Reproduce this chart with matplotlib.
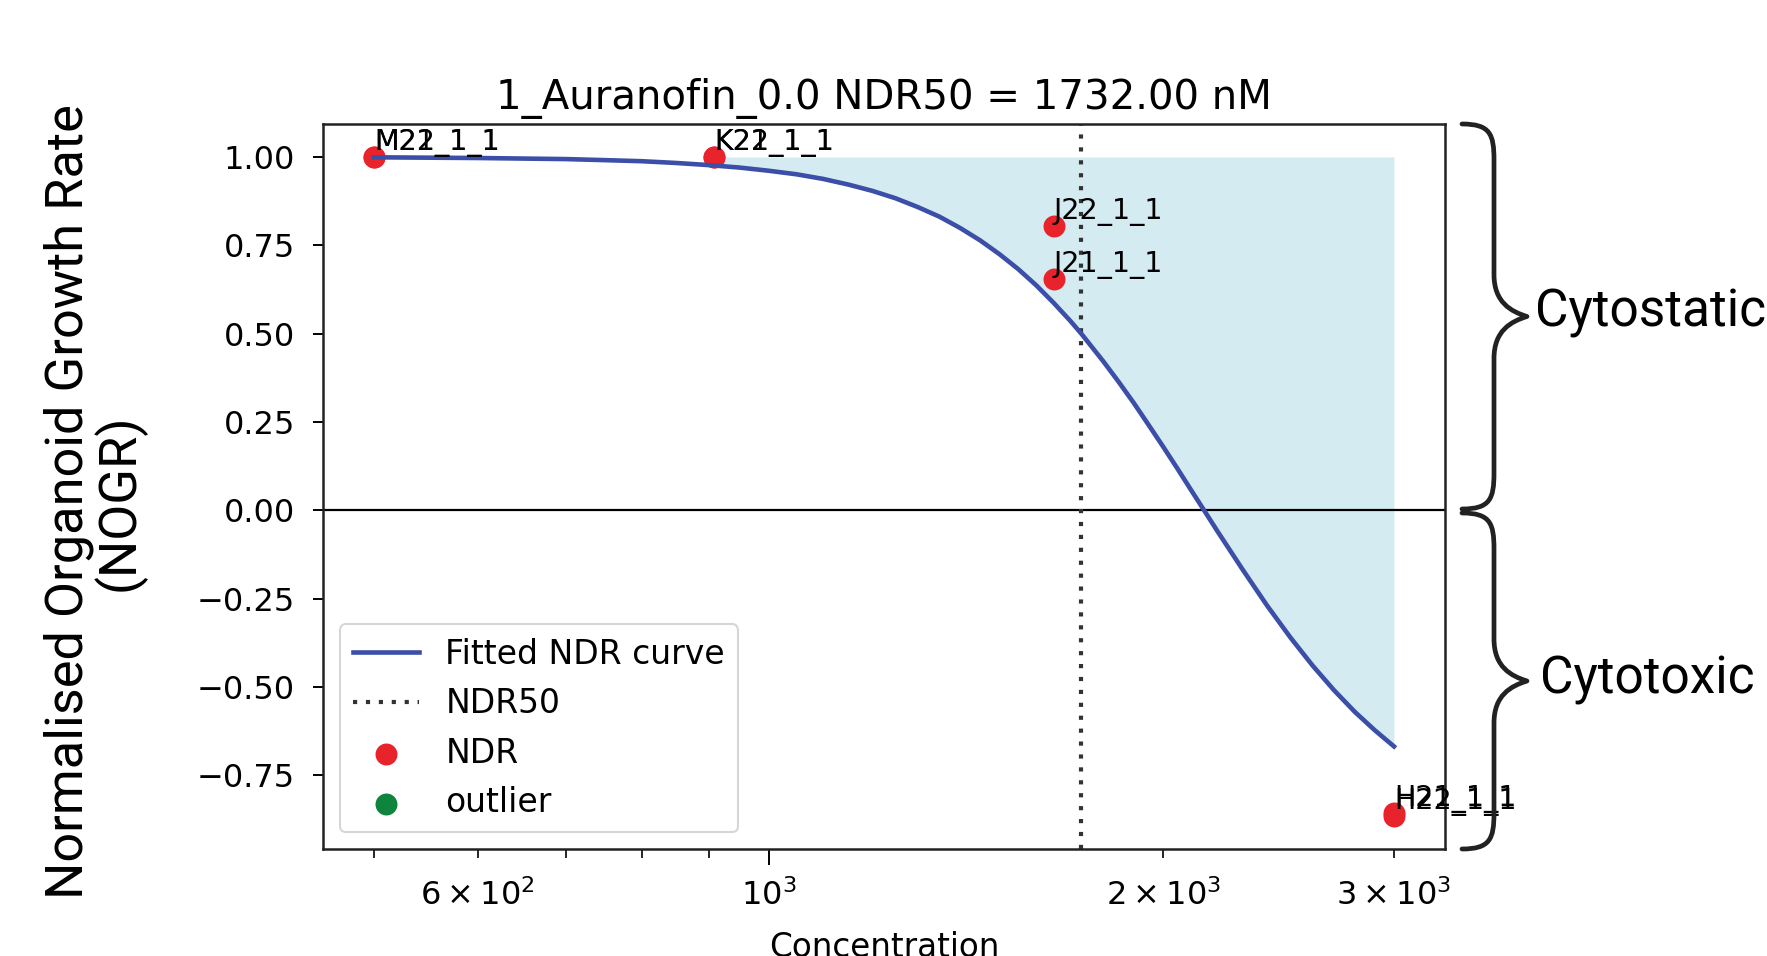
import matplotlib
matplotlib.use("Agg")
import matplotlib.pyplot as plt
from matplotlib.path import Path
from matplotlib.patches import PathPatch
import numpy as np

# ---------------- data ----------------
point_names = ["M21_1_1", "M22_1_1", "K21_1_1", "K22_1_1",
               "J21_1_1", "J22_1_1", "H21_1_1", "H22_1_1"]
point_conc = [500.0, 500.0, 908.6, 908.6, 1650.9, 1650.9, 3000.0, 3000.0]
point_nogr = [1.000, 1.000, 1.000, 1.000, 0.655, 0.804, -0.855, -0.865]

curve_conc = [500, 600, 700, 750, 800, 850, 900, 950, 1000, 1050, 1100, 1150,
              1200, 1250, 1300, 1350, 1400, 1450, 1500, 1550, 1600, 1650,
              1700, 1732, 1800, 1850, 1900, 1950, 2000, 2050, 2100, 2150,
              2200, 2300, 2400, 2500, 2600, 2700, 2800, 2900, 3000]
curve_nogr = [0.999, 0.997, 0.994, 0.991, 0.988, 0.983, 0.977, 0.970, 0.961,
              0.951, 0.938, 0.922, 0.904, 0.883, 0.858, 0.831, 0.799, 0.764,
              0.725, 0.683, 0.637, 0.587, 0.535, 0.500, 0.422, 0.363, 0.303,
              0.241, 0.180, 0.119, 0.058, -0.001, -0.059, -0.168, -0.269,
              -0.359, -0.439, -0.509, -0.570, -0.622, -0.668]

ndr50 = 1732.0
title_text = "1_Auranofin_0.0 NDR50 = 1732.00 nM"

xtick_major = [1000]
xtick_major_labels = [r"$\mathdefault{10^{3}}$"]
xtick_minor = [500, 600, 700, 800, 900, 2000, 3000]
xtick_minor_labels = ["", r"$\mathdefault{6\times10^{2}}$", "", "", "",
                      r"$\mathdefault{2\times10^{3}}$", r"$\mathdefault{3\times10^{3}}$"]
ytick_values = [-0.75, -0.50, -0.25, 0.00, 0.25, 0.50, 0.75, 1.00]
ytick_labels = ["\u22120.75", "\u22120.50", "\u22120.25", "0.00", "0.25", "0.50", "0.75", "1.00"]

# ---------------- figure ----------------
W, H = 1767, 956
plt.rcParams["font.family"] = ["DejaVu Sans"]
fig = plt.figure(figsize=(W / 100, H / 100), dpi=100)
ax = fig.add_axes([323 / W, 1 - 849 / H, (1445 - 323) / W, (849 - 124) / H])

cx = np.array(curve_conc, dtype=float)
cy = np.array(curve_nogr, dtype=float)
mask = cx >= 900
ax.fill_between(cx[mask], cy[mask], 1.0, color="lightblue", alpha=0.5,
                linewidth=0, zorder=1)
ax.axhline(0, color="black", lw=1.6, zorder=1.5)
ax.axvline(ndr50, color="#333333", lw=3.0, linestyle=(0, (1.0, 2.1)),
           zorder=1.6, label="NDR50")
ax.scatter(point_conc, point_nogr, s=250, color="#e8232b", zorder=2,
           linewidths=0, label="NDR")
ax.scatter([], [], s=250, color="#0d853c", linewidths=0, label="outlier")
ax.plot(cx, cy, color="#3b4ea8", lw=3.3, zorder=3, label="Fitted NDR curve",
        solid_joinstyle="round")

for name, x, y in zip(point_names, point_conc, point_nogr):
    ax.text(x, y, name, fontsize=20.5, ha="left", va="bottom", zorder=4)

ax.set_xscale("log")
ax.set_xticks(xtick_major, xtick_major_labels)
ax.set_xticks(xtick_minor, xtick_minor_labels, minor=True)
ax.set_yticks(ytick_values, ytick_labels)

for s in ax.spines.values():
    s.set_linewidth(1.8)
    s.set_color("#222222")
ax.tick_params(axis="x", which="major", length=11.5, width=1.4, pad=10,
               labelsize=23)
ax.tick_params(axis="x", which="minor", length=6.5, width=1.2, pad=15,
               labelsize=23)
ax.tick_params(axis="y", which="major", length=7, width=1.4, pad=13,
               labelsize=23)

ax.set_title(title_text, fontsize=29, pad=11)

ax.set_xlabel("Concentration", fontsize=23.5)
ax.xaxis.set_label_coords(0.5, -(957 - 849) / 725)
ax.xaxis.label.set_va("baseline")

ax.set_ylabel("Normalised Organoid Growth Rate\n(NOGR)", fontsize=37.7,
              family=["Roboto", "DejaVu Sans"], linespacing=0.95)
ax.yaxis.set_label_coords((95 - 323) / 1122, (849 - 502) / 725)
ax.yaxis.label.set_va("center")
ax.yaxis.label.set_ha("center")

handles, labels = ax.get_legend_handles_labels()
order = [labels.index(l) for l in ["Fitted NDR curve", "NDR50", "NDR", "outlier"]]
leg = ax.legend([handles[i] for i in order], [labels[i] for i in order],
                loc="lower left", fontsize=23.8, frameon=True, fancybox=True,
                edgecolor="#cccccc", framealpha=0.8)
leg.get_frame().set_linewidth(1.5)


# ---------------- braces ----------------
def brace(ya, yb, xe=1462, xb=1494, xt=1527, r=36, rm=42):
    ym = (ya + yb) / 2
    pts = [(xe, ya),
           (xb - 4, ya), (xb, ya + 10), (xb, ya + r),
           (xb, ym - rm),
           (xb, ym - 14), (xt - 16, ym - 5), (xt, ym),
           (xt - 16, ym + 5), (xb, ym + 14), (xb, ym + rm),
           (xb, yb - r),
           (xb, yb - 10), (xb - 4, yb), (xe, yb)]
    codes = [Path.MOVETO,
             Path.CURVE4, Path.CURVE4, Path.CURVE4,
             Path.LINETO,
             Path.CURVE4, Path.CURVE4, Path.CURVE4,
             Path.CURVE4, Path.CURVE4, Path.CURVE4,
             Path.LINETO,
             Path.CURVE4, Path.CURVE4, Path.CURVE4]
    verts = [(x / W, 1 - y / H) for x, y in pts]
    patch = PathPatch(Path(verts, codes), facecolor="none", edgecolor="#222222",
                      lw=3.4, capstyle="round", joinstyle="round",
                      transform=fig.transFigure, clip_on=False)
    fig.add_artist(patch)


brace(124, 509)
brace(513, 849)
fig.text(1535 / W, 1 - 313 / H, "Cytostatic", fontsize=37,
         family=["Roboto", "DejaVu Sans"], ha="left", va="center")
fig.text(1540 / W, 1 - 680 / H, "Cytotoxic", fontsize=37,
         family=["Roboto", "DejaVu Sans"], ha="left", va="center")

fig.savefig("out.png", dpi=100)
